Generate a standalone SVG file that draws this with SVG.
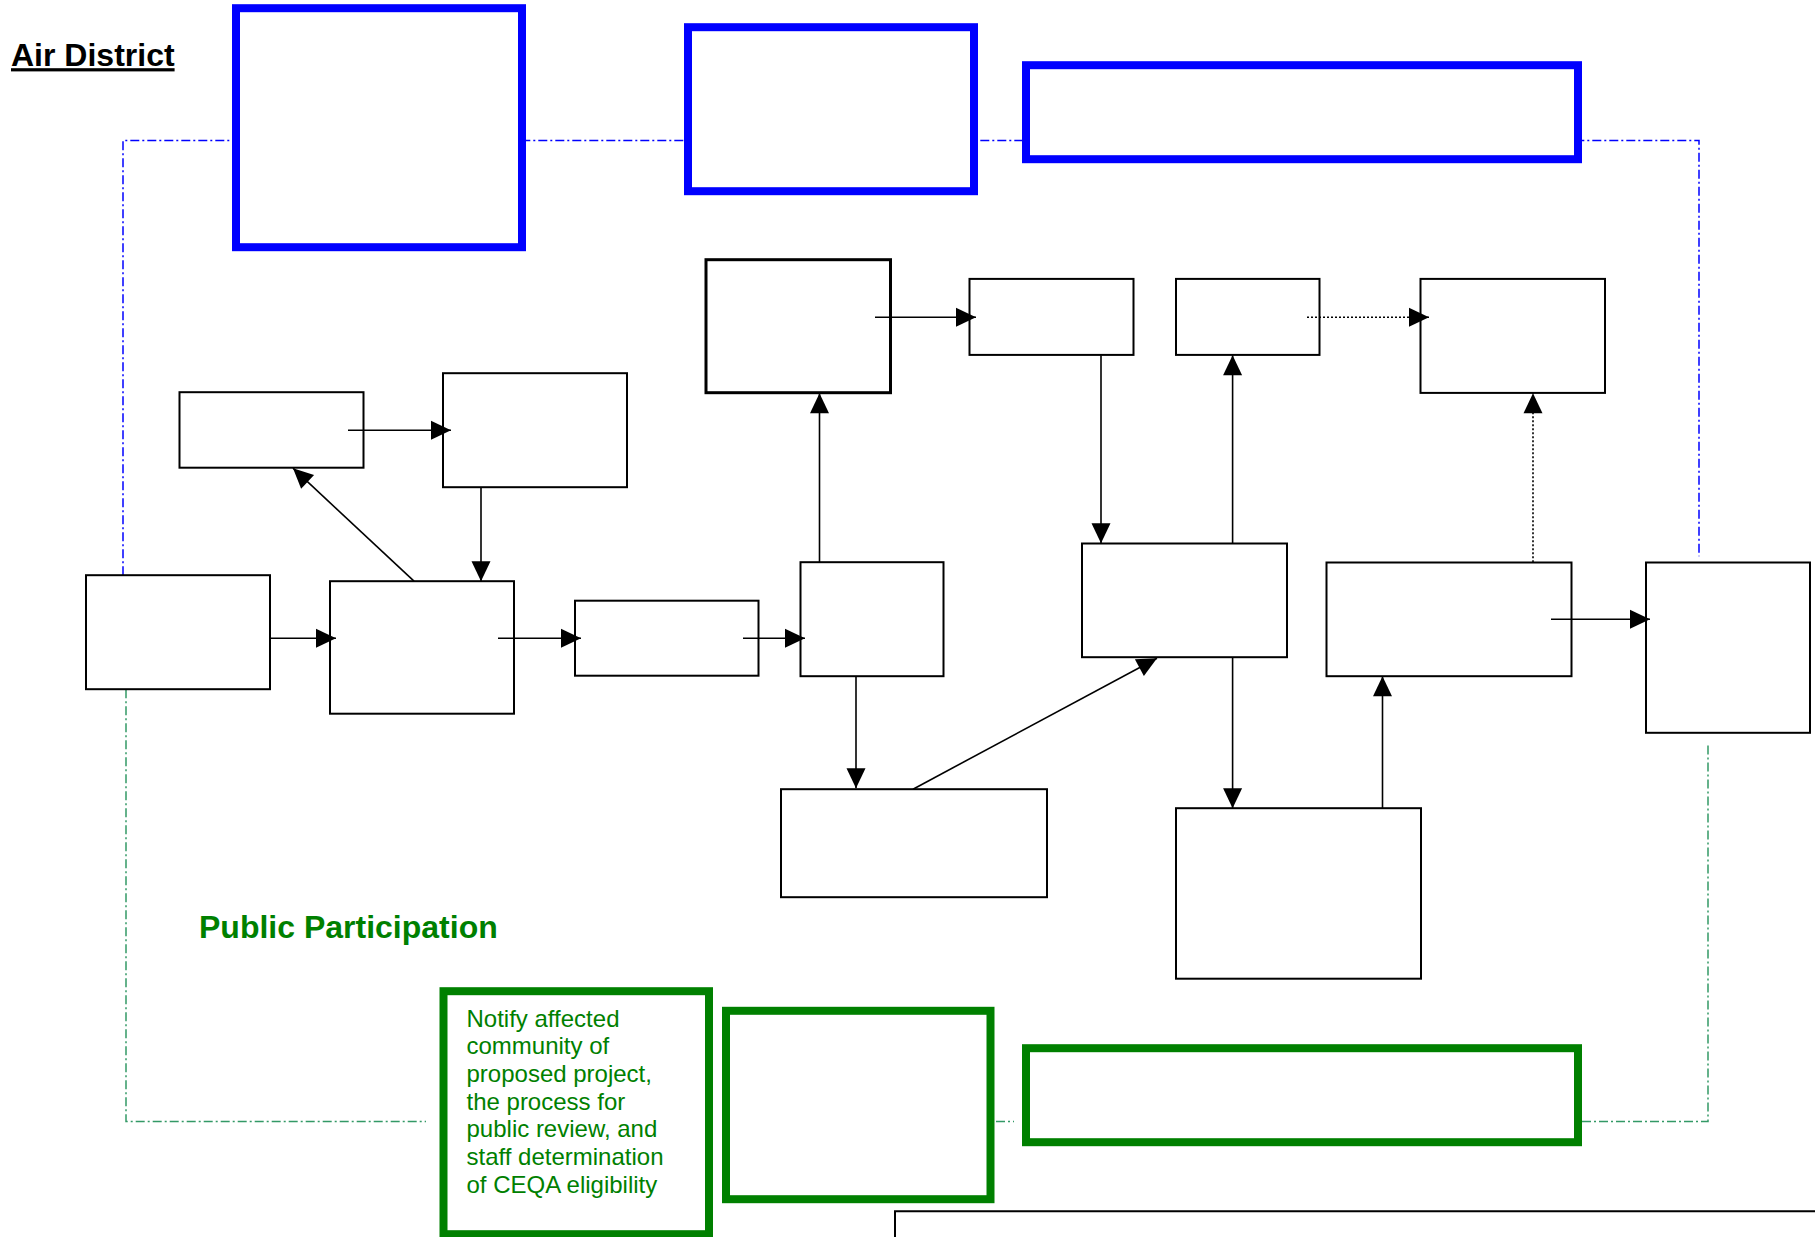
<svg xmlns="http://www.w3.org/2000/svg" width="1815" height="1237" viewBox="0 0 1815 1237">
<style>
.bx{fill:#fff;stroke:#000;stroke-width:2}
.bxg{fill:#fff;stroke:#000;stroke-width:3}
.blue{fill:#fff;stroke:#0000ff;stroke-width:8}
.green{fill:#fff;stroke:#008000;stroke-width:8}
.bdash{fill:none;stroke:#0000ff;stroke-width:1.5;stroke-dasharray:9 3 2 3}
.gdash{fill:none;stroke:#339966;stroke-width:1.5;stroke-dasharray:9 3 2 3}
.ar{fill:none;stroke:#000;stroke-width:1.6;marker-end:url(#ah)}
.dot{fill:none;stroke:#000;stroke-width:1.6;stroke-dasharray:2 2;marker-end:url(#ah)}
.lbl{font-family:"Liberation Sans",Arial,sans-serif;font-weight:bold;font-size:32px}
.note{font-family:"Liberation Sans",Arial,sans-serif;font-size:24px;fill:#008000}
</style>
<defs>
<marker id="ah" markerUnits="userSpaceOnUse" markerWidth="20" markerHeight="19" refX="20" refY="9.5" orient="auto" overflow="visible">
<path d="M0,0 L20,9.5 L0,19 Z" fill="#000"/>
</marker>
</defs>
<rect width="1815" height="1237" fill="#fff"/>
<g transform="translate(0,1.2)">
<g id="swimlanes">
<path class="bdash" d="M123,574 V139.3 H1699 V555"/>
<path class="gdash" d="M126,688 V1120.3 H426"/>
<path class="gdash" d="M996,1120.3 H1014"/>
<path class="gdash" d="M1582,1120.3 H1708 V744"/>
</g>
<text id="air-district" class="lbl" x="11" y="65" text-decoration="underline" fill="#000">Air District</text>
<text id="public-participation" class="lbl" x="199" y="937" fill="#008000">Public Participation</text>
<g id="blue1"><rect class="blue" x="236" y="7" width="286" height="239"/></g>
<g id="blue2"><rect class="blue" x="688" y="26" width="286" height="164"/></g>
<g id="blue3"><rect class="blue" x="1026" y="64" width="552" height="94"/></g>
<g id="green1"><rect class="green" x="443.5" y="990" width="265.5" height="243"/>
<text class="note"><tspan x="466.5" y="1025.5">Notify affected</tspan><tspan x="466.5" y="1053.2">community of</tspan><tspan x="466.5" y="1080.9">proposed project,</tspan><tspan x="466.5" y="1108.6">the process for</tspan><tspan x="466.5" y="1136.3">public review, and</tspan><tspan x="466.5" y="1164">staff determination</tspan><tspan x="466.5" y="1191.7">of CEQA eligibility</tspan></text>
</g>
<g id="green2"><rect class="green" x="726" y="1009.6" width="264.5" height="188.4"/></g>
<g id="green3"><rect class="green" x="1026" y="1047" width="552" height="94"/></g>
<g id="nodeA"><rect class="bx" x="86" y="574" width="184" height="114"/></g>
<g id="nodeB"><rect class="bx" x="330" y="580" width="184" height="132.5"/></g>
<g id="nodeC"><rect class="bx" x="179.5" y="391" width="184" height="75.5"/></g>
<g id="nodeD"><rect class="bx" x="443" y="372" width="184" height="114"/></g>
<g id="nodeE"><rect class="bx" x="575" y="599.5" width="183.5" height="75"/></g>
<g id="nodeF"><rect class="bx" x="800.5" y="561" width="143" height="114"/></g>
<g id="nodeG"><rect class="bxg" x="706" y="258.5" width="184.5" height="133"/></g>
<g id="nodeH"><rect class="bx" x="969.5" y="277.7" width="164" height="76"/></g>
<g id="nodeI"><rect class="bx" x="1176" y="277.7" width="143.5" height="76"/></g>
<g id="nodeJ"><rect class="bx" x="1420.5" y="277.7" width="184.5" height="114"/></g>
<g id="nodeK"><rect class="bx" x="1082" y="542.3" width="205" height="113.7"/></g>
<g id="nodeL"><rect class="bx" x="1326.5" y="561.3" width="245" height="113.7"/></g>
<g id="nodeM"><rect class="bx" x="1646" y="561.3" width="164" height="170.3"/></g>
<g id="nodeN"><rect class="bx" x="781" y="788" width="266" height="108"/></g>
<g id="nodeO"><rect class="bx" x="1176" y="807" width="245" height="170.5"/></g>
<g id="nodeP"><path d="M895,1237 V1210 H1815" fill="none" stroke="#000" stroke-width="2"/></g>
<g id="connectors">
<path class="ar" d="M270,637 H336"/>
<path class="ar" d="M498,637 H581"/>
<path class="ar" d="M743,637 H805"/>
<path class="ar" d="M348,429 H451"/>
<path class="ar" d="M481,486 V580"/>
<path class="ar" d="M414,580 L293,467"/>
<path class="ar" d="M819.5,561 V392"/>
<path class="ar" d="M875,316 H976"/>
<path class="dot" d="M1307,316 H1429"/>
<path class="ar" d="M1101,354 V542"/>
<path class="ar" d="M1232.6,542 V354"/>
<path class="dot" d="M1533,561 V392"/>
<path class="ar" d="M1551,618 H1650"/>
<path class="ar" d="M856,675 V787"/>
<path class="ar" d="M913,788 L1157,657"/>
<path class="ar" d="M1232.6,656 V807"/>
<path class="ar" d="M1382.5,807 V675"/>
</g>
</g>
</svg>
